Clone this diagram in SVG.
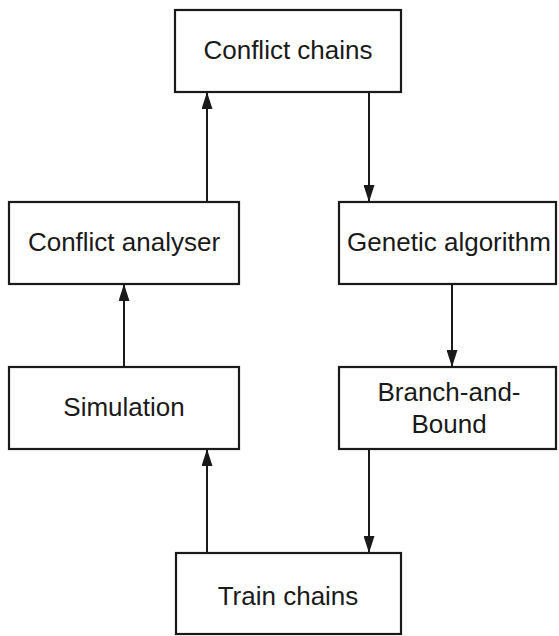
<svg xmlns="http://www.w3.org/2000/svg" width="559" height="636" viewBox="0 0 559 636">
<style>
.box{fill:#fff;stroke:#1a1a1a;stroke-width:2.2}
.lbl{font-family:"Liberation Sans",Arial,sans-serif;font-size:26px;fill:#1a1a1a;text-anchor:middle}
.edge{stroke:#1a1a1a;stroke-width:2;fill:none;marker-end:url(#ah)}
</style>
<defs>
<marker id="ah" markerUnits="userSpaceOnUse" markerWidth="17" markerHeight="11" viewBox="0 0 17 11" refX="17" refY="5.5" orient="auto">
<path d="M0,0 L17,5.5 L0,11 Z" fill="#1a1a1a"/>
</marker>
</defs>
<rect width="559" height="636" fill="#fff"/>
<g id="edges">
<line class="edge" x1="207" y1="202" x2="207" y2="92"/>
<line class="edge" x1="369" y1="92" x2="369" y2="202"/>
<line class="edge" x1="124" y1="367" x2="124" y2="284"/>
<line class="edge" x1="452" y1="284" x2="452" y2="367"/>
<line class="edge" x1="207" y1="553" x2="207" y2="449"/>
<line class="edge" x1="369" y1="449" x2="369" y2="553"/>
</g>
<g id="conflict_chains">
<rect class="box" x="175" y="10" width="226" height="82"/>
<text class="lbl" x="288" y="59">Conflict chains</text>
</g>
<g id="conflict_analyser">
<rect class="box" x="9" y="202" width="230" height="82"/>
<text class="lbl" x="124" y="251">Conflict analyser</text>
</g>
<g id="genetic_algorithm">
<rect class="box" x="339" y="202" width="217" height="82"/>
<text class="lbl" x="449" y="251">Genetic algorithm</text>
</g>
<g id="simulation">
<rect class="box" x="9" y="367" width="230" height="82"/>
<text class="lbl" x="124" y="416">Simulation</text>
</g>
<g id="branch_and_bound">
<rect class="box" x="339" y="367" width="217" height="82"/>
<text class="lbl" x="449" y="401">Branch-and-</text>
<text class="lbl" x="449" y="433">Bound</text>
</g>
<g id="train_chains">
<rect class="box" x="176" y="553" width="225" height="81"/>
<text class="lbl" x="288" y="605">Train chains</text>
</g>
</svg>
